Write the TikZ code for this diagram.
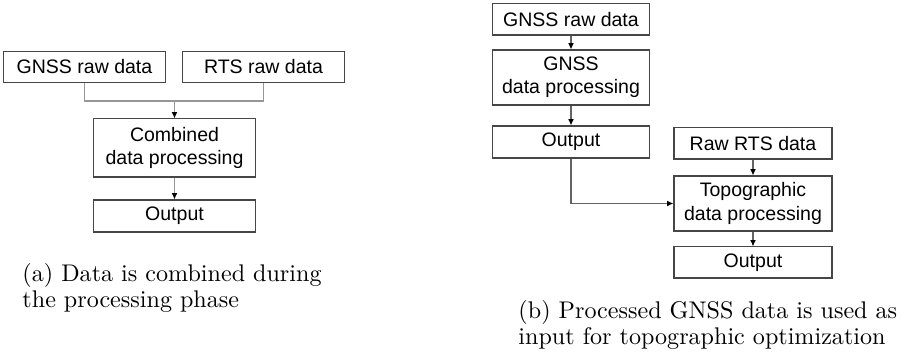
\documentclass[tikz,border=0pt]{standalone}
\usepackage{fontspec}
\usepackage{tikz}
\usetikzlibrary{arrows.meta,positioning,calc}
\usepackage{xcolor}
\newfontfamily\boxfont{Liberation Sans}
\definecolor{boxgray}{RGB}{70,70,70}
\definecolor{lightline}{RGB}{150,150,150}
\definecolor{darkline}{RGB}{100,100,100}

\begin{document}
\begin{tikzpicture}[
    x=0.415pt, y=-0.415pt,
    box/.style={rectangle, draw=boxgray, line width=0.45pt, inner sep=0pt, align=center, minimum width=67.6pt, minimum height=12.9pt, font=\boxfont\fontsize{8.1}{9.6}\selectfont},
    tallbox/.style={box, minimum height=23.4pt},
    narrow/.style={minimum width=65pt},
    link/.style={draw=lightline, line width=0.45pt},
    arrow/.style={line width=0.45pt, -{Latex[black,length=2.6pt,width=2.4pt]}},
    caption/.style={anchor=north west, inner sep=0pt, align=left, font=\fontsize{10}{10.6}\selectfont}
]
    \useasboundingbox (0,0) rectangle (908,358);

    % (a) combined processing
    \node[box] (grawa) at (84.5,67) {GNSS raw data};
    \node[box] (rrawa) at (263.5,67) {RTS raw data};
    \node[tallbox, minimum height=24.1pt] (comb) at (174.5,148) {Combined\\data processing};
    \node[box, minimum height=13.3pt] (outa) at (174.5,216) {Output};
    \coordinate (join) at (174.5,101);

    \draw[link] (grawa.south) |- (join);
    \draw[link] (rrawa.south) |- (join);
    \draw[arrow, draw=lightline] (join) -- (comb);
    \draw[arrow, draw=lightline] (comb) -- (outa);

    \node[caption] (capa) at (22,263) {(a) Data is combined during\\the processing phase};

    % (b) processed GNSS as input
    \node[box, narrow] (grawb) at (571,19.5) {GNSS raw data};
    \node[tallbox, narrow, minimum height=22.8pt] (gproc) at (571,77.5) {GNSS\\data processing};
    \node[box, narrow, minimum height=13.3pt] (outb) at (571,142) {Output};
    \node[box, minimum width=65.6pt] (rrawb) at (753,143.5) {Raw RTS data};
    \node[tallbox, minimum width=65.6pt, minimum height=22.8pt] (topo) at (753,203.5) {Topographic\\data processing};
    \node[box, minimum width=65.6pt] (outc) at (753,262.5) {Output};

    \draw[arrow, draw=darkline] (grawb) -- (gproc);
    \draw[arrow, draw=darkline] (gproc) -- (outb);
    \draw[arrow, draw=darkline] (outb.south) |- (topo.west);
    \draw[arrow, draw=darkline] (rrawb) -- (topo);
    \draw[arrow, draw=darkline] (topo) -- (outc);

    \node[caption] (capb) at (518,300) {(b) Processed GNSS data is used as\\input for topographic optimization};
\end{tikzpicture}
\end{document}
